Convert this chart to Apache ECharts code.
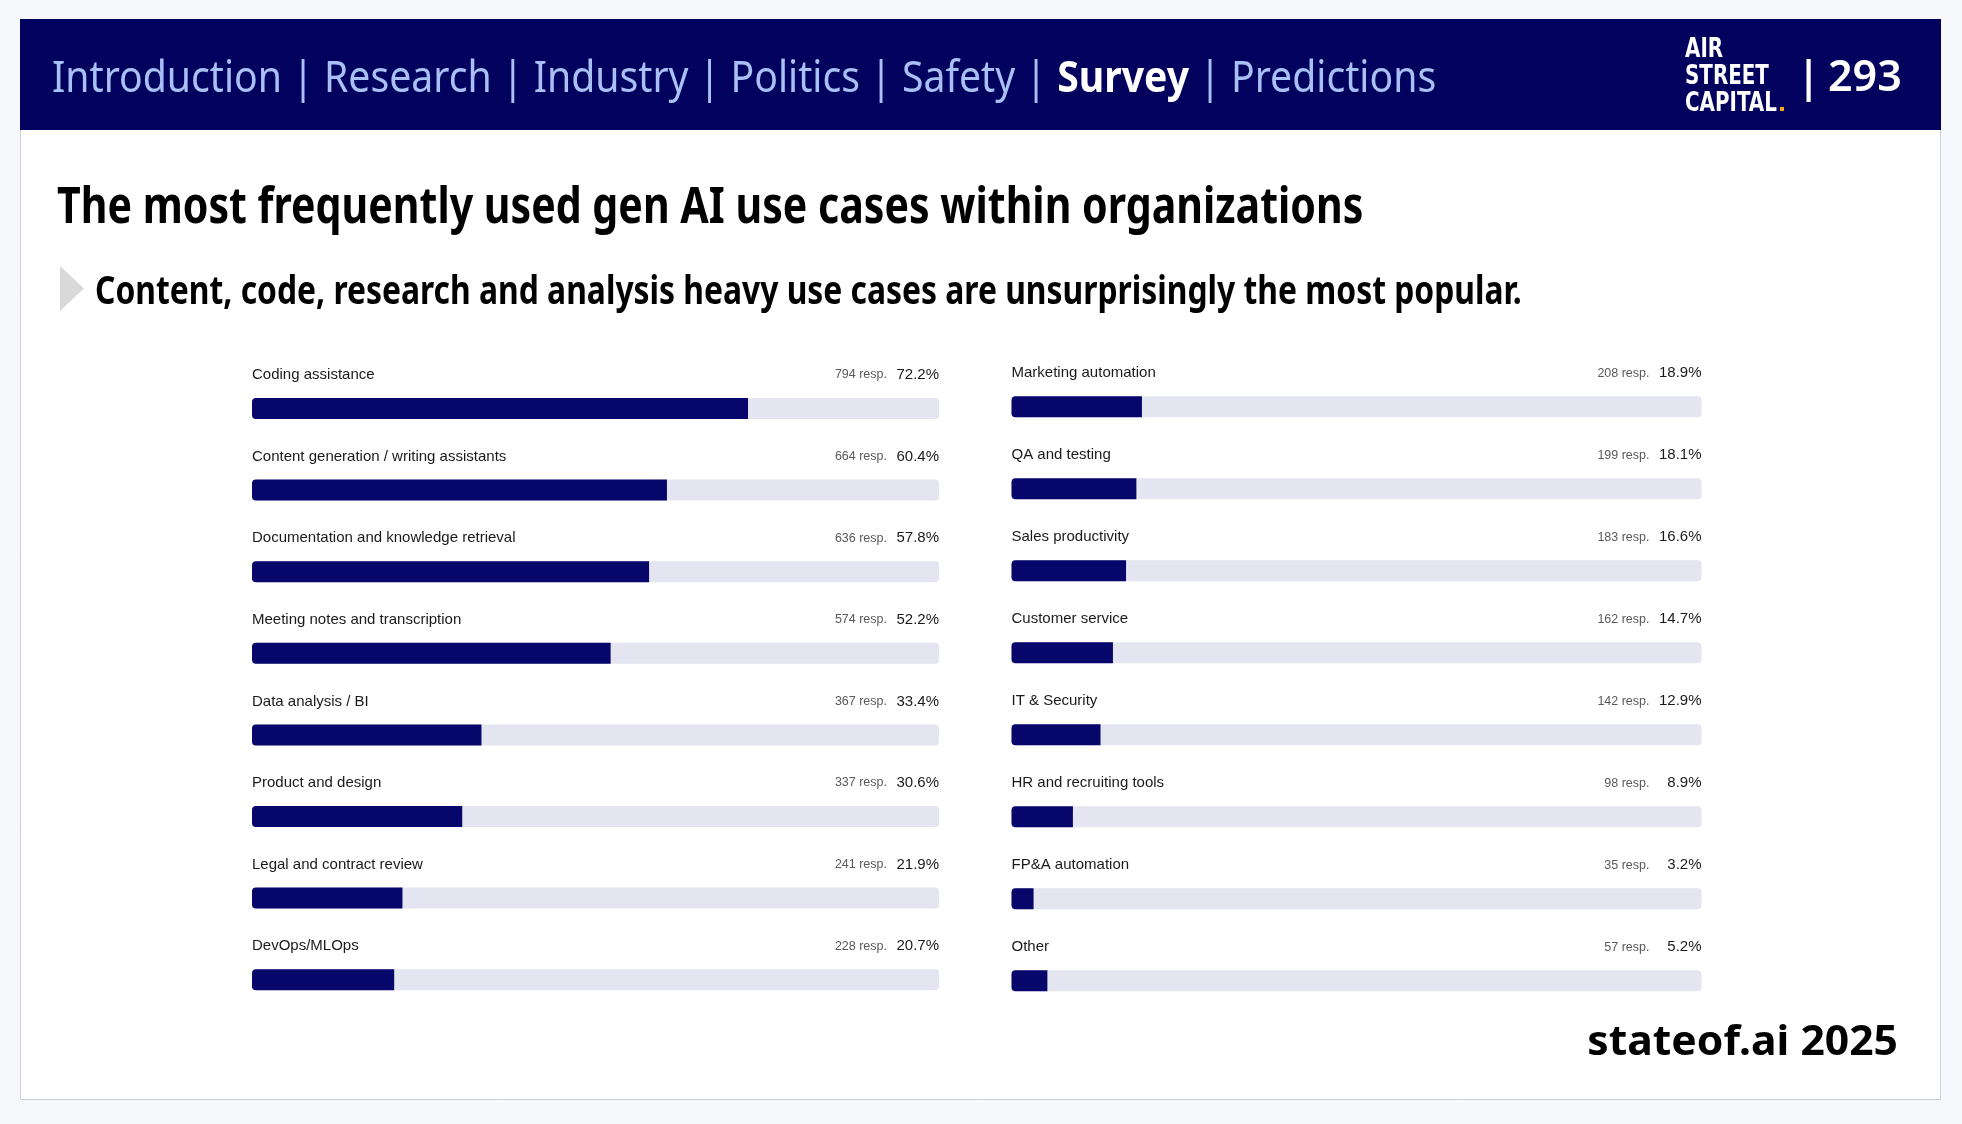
<!DOCTYPE html>
<html>
<head>
<meta charset="utf-8">
<script src="https://cdn.jsdelivr.net/npm/echarts@6/dist/echarts.min.js"></script>
<style>
html,body{margin:0;padding:0;background:#f7f8fb;}
#chart{width:1962px;height:1124px;}
</style>
</head>
<body>
<div id="chart"></div>
<script>
// ---- data ----
var leftCats = ['Coding assistance','Content generation / writing assistants','Documentation and knowledge retrieval','Meeting notes and transcription','Data analysis / BI','Product and design','Legal and contract review','DevOps/MLOps'];
var leftResp = [794,664,636,574,367,337,241,228];
var leftPct = [72.2,60.4,57.8,52.2,33.4,30.6,21.9,20.7];
var rightCats = ['Marketing automation','QA and testing','Sales productivity','Customer service','IT & Security','HR and recruiting tools','FP&A automation','Other'];
var rightResp = [208,199,183,162,142,98,35,57];
var rightPct = [18.9,18.1,16.6,14.7,12.9,8.9,3.2,5.2];
var navItems = ['Introduction','Research','Industry','Politics','Safety','Survey','Predictions'];
var activeNav = 'Survey';
var titleText = 'The most frequently used gen AI use cases within organizations';
var subtitleText = 'Content, code, research and analysis heavy use cases are unsurprisingly the most popular.';
var logoLines = ['AIR','STREET','CAPITAL'];
var pageNum = '293';
var footerText = 'stateof.ai 2025';

var NAVY = '#02015d';
var FILL = '#06066b';
var TRACK = '#e5e5f1';
var labelFont = '"Liberation Sans", Arial, sans-serif';
var headFont = '"Noto Sans", "Open Sans", sans-serif';
var logoFont = '"DejaVu Sans Condensed", "DejaVu Sans", sans-serif';

var chart = echarts.init(document.getElementById('chart'), null, {renderer:'canvas'});

function makeSeries(idx, cats, resp, pct) {
  var track = cats.map(function(c, i){ return {value:100, resp:resp[i], pct:pct[i]}; });
  return [
    {
      type:'bar', xAxisIndex:idx, yAxisIndex:idx, barWidth:21, barGap:'-100%',
      data: track, silent:true, z:2,
      itemStyle:{color:TRACK, borderRadius:4},
      label:{
        show:true, position:['100%', -23], align:'right', verticalAlign:'middle',
        formatter:function(p){ return '{r|' + p.data.resp + ' resp.}{p|' + p.data.pct.toFixed(1) + '%}'; },
        rich:{
          r:{fontFamily:labelFont, fontSize:12.5, color:'#5a5a5a'},
          p:{fontFamily:labelFont, fontSize:15, color:'#1a1a1a', width:52, align:'right'}
        }
      }
    },
    {
      type:'bar', xAxisIndex:idx, yAxisIndex:idx, barWidth:21, barGap:'-100%',
      data: pct, silent:true, z:3,
      itemStyle:{color:FILL, borderRadius:[4,0,0,4]},
      label:{
        show:true, position:[0, -23], align:'left', verticalAlign:'middle',
        formatter:function(p){ return p.name; },
        fontFamily:labelFont, fontSize:15, color:'#1a1a1a'
      }
    }
  ];
}

var navRich = {
  n:{fontFamily:headFont, fontSize:43.4, fill:'#a8c0f4', fontWeight:400},
  b:{fontFamily:headFont, fontSize:43.4, fill:'#ffffff', fontWeight:700}
};
var navStr = navItems.map(function(t){
  return (t === activeNav ? '{b|' : '{n|') + t + '}';
}).join('{n| | }');

var logoGraphics = logoLines.map(function(t, i){
  return {type:'text', z:5, x:1685, y:50 + i*27, scaleX:0.85,
    style:{text:t, fontFamily:logoFont, fontWeight:'bold', fontSize:26, fill:'#ffffff', verticalAlign:'middle'}};
});

var option = {
  animation:false,
  backgroundColor:'#f7f8fb',
  grid:[
    {left:252, top:367.7, width:687, height:652.8},
    {left:1011.5, top:365.85, width:690, height:656}
  ],
  xAxis:[
    {gridIndex:0, type:'value', min:0, max:100, show:false},
    {gridIndex:1, type:'value', min:0, max:100, show:false}
  ],
  yAxis:[
    {gridIndex:0, type:'category', data:leftCats, inverse:true, show:false},
    {gridIndex:1, type:'category', data:rightCats, inverse:true, show:false}
  ],
  series: makeSeries(0, leftCats, leftResp, leftPct).concat(makeSeries(1, rightCats, rightResp, rightPct)),
  graphic:[
    {type:'rect', z:-10, shape:{x:20.5, y:19.5, width:1920, height:1080}, style:{fill:'#ffffff', stroke:'#cfcfd4', lineWidth:1}},
    {type:'rect', z:-9, shape:{x:20, y:19, width:1921, height:111}, style:{fill:NAVY}},
    {type:'text', z:5, x:52, y:79.5, scaleX:0.903, style:{text:navStr, rich:navRich, verticalAlign:'middle', align:'left'}}
  ].concat(logoGraphics).concat([
    {type:'rect', z:5, shape:{x:1780, y:107, width:4, height:4}, style:{fill:'#f5a623'}},
    {type:'text', z:5, x:1808.5, y:80, style:{text:'|', fontFamily:headFont, fontWeight:600, fontSize:43, fill:'#ffffff', align:'center', verticalAlign:'middle'}},
    {type:'text', z:5, x:1828, y:78.5, style:{text:pageNum, fontFamily:headFont, fontWeight:600, fontSize:43, fill:'#ffffff', align:'left', verticalAlign:'middle'}},
    {type:'text', z:5, x:57, y:208.5, scaleX:0.806, style:{text:titleText, fontFamily:headFont, fontWeight:700, fontSize:51, fill:'#000000', verticalAlign:'middle'}},
    {type:'polygon', z:5, shape:{points:[[60,266],[84,288.5],[60,311]]}, style:{fill:'#d9d9d9'}},
    {type:'text', z:5, x:95, y:293, scaleX:0.8225, style:{text:subtitleText, fontFamily:headFont, fontWeight:700, fontSize:38.7, fill:'#000000', verticalAlign:'middle'}},
    {type:'text', z:5, x:1898, y:1043, scaleX:1.04, style:{text:footerText, fontFamily:headFont, fontWeight:700, fontSize:41, fill:'#000000', align:'right', verticalAlign:'middle'}}
  ])
};
chart.setOption(option);
</script>
</body>
</html>
